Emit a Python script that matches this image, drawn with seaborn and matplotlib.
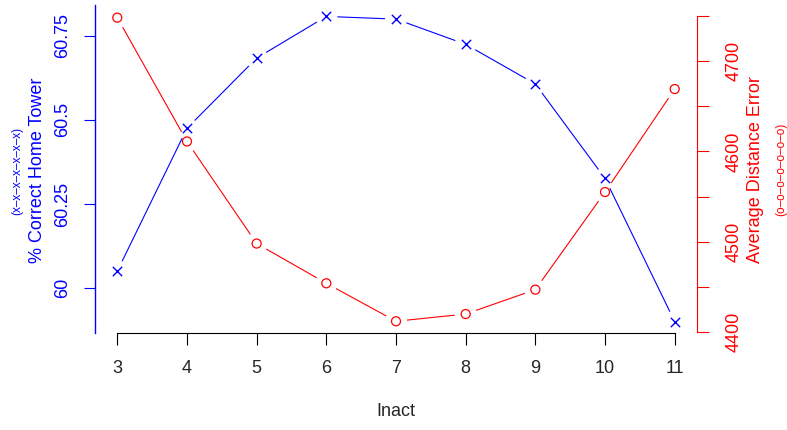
import matplotlib
matplotlib.use("Agg")
import matplotlib.pyplot as plt
import seaborn as sns
import numpy as np
import pandas as pd

sns.set_theme(style="white")
plt.rcParams["font.family"] = ["Liberation Sans", "DejaVu Sans"]

# data
inact = [3, 4, 5, 6, 7, 8, 9, 10, 11]
pct_correct = [60.05, 60.475, 60.684, 60.808, 60.80, 60.725, 60.607, 60.326, 59.90]
dist_error = [4748, 4611, 4498, 4454, 4412, 4420, 4447, 4555, 4669]
left_ticks = [60, 60.25, 60.5, 60.75]
left_labels = ["60", "60.25", "60.5", "60.75"]
right_ticks = [4400, 4450, 4500, 4550, 4600, 4650, 4700, 4750]
right_labels = ["4400", "", "4500", "", "4600", "", "4700", ""]

df = pd.DataFrame({"Inact": inact, "pct": pct_correct, "dist": dist_error})

BLUE = "#0000FF"
RED = "#FF0000"
GAP_PX = 11

fig = plt.figure(figsize=(7.87, 4.30), dpi=100)
ax = fig.add_axes([95 / 787, 97 / 430, 602 / 787, 328 / 430])
ax2 = ax.twinx()
ax.patch.set_visible(False)

ax.set_xlim(2.68, 11.32)
ax.set_ylim(59.866, 60.842)
ax2.set_ylim(4399, 4762)


def gapped_line(axis, xs, ys, color):
    # R type="b": each segment stops short of the points
    pts = axis.transData.transform(np.column_stack([xs, ys]))
    inv = axis.transData.inverted()
    for p, q in zip(pts[:-1], pts[1:]):
        d = q - p
        n = np.hypot(*d)
        if n <= 2 * GAP_PX:
            continue
        u = d / n
        seg = inv.transform(np.vstack([p + u * GAP_PX, q - u * GAP_PX]))
        axis.plot(seg[:, 0], seg[:, 1], color=color, lw=0.8, solid_capstyle="butt")


# blue series (left axis)
gapped_line(ax, inact, pct_correct, BLUE)
sns.scatterplot(data=df, x="Inact", y="pct", ax=ax, marker="x", color=BLUE,
                s=45, linewidth=1.0, zorder=5)

# red series (right axis)
gapped_line(ax2, inact, dist_error, RED)
sns.scatterplot(data=df, x="Inact", y="dist", ax=ax2, marker="o", fc="none",
                ec=RED, s=42, linewidth=0.9, zorder=5)

ax.set_xlim(2.68, 11.32)
ax.set_ylim(59.866, 60.842)
ax2.set_ylim(4399, 4762)

for a in (ax, ax2):
    a.set_xlabel("")
    a.set_ylabel("")
    a.grid(False)
    a.spines["top"].set_visible(False)

# bottom axis
ax.spines["bottom"].set_bounds(3, 11)
ax.spines["bottom"].set_color("black")
ax.spines["bottom"].set_linewidth(0.8)
ax.set_xticks(inact)
ax.tick_params(axis="x", direction="out", length=8.5, width=0.8, color="black",
               labelsize=13, pad=11, bottom=True)
ax2.spines["bottom"].set_visible(False)

# left axis
ax.spines["right"].set_visible(False)
ax.spines["left"].set_color(BLUE)
ax.spines["left"].set_linewidth(1.0)
ax.set_yticks(left_ticks)
ax.set_yticklabels(left_labels, rotation=90, va="center")
ax.tick_params(axis="y", direction="out", length=8, width=0.8, colors=BLUE,
               labelsize=13, pad=9, left=True)

# right axis
ax2.spines["left"].set_visible(False)
ax2.spines["right"].set_color(RED)
ax2.spines["right"].set_linewidth(0.8)
ax2.spines["right"].set_bounds(4400, 4750)
ax2.set_yticks(right_ticks)
ax2.set_yticklabels(right_labels, rotation=90, va="center")
ax2.tick_params(axis="y", direction="out", length=8.5, width=0.8, colors=RED,
                labelsize=13, pad=12, right=True)

# axis titles
fig.text(396 / 787, 1 - 412 / 430, "Inact", ha="center", va="center", fontsize=13)
fig.text(38 / 787, 1 - 170 / 430, "% Correct Home Tower", rotation=90,
         ha="center", va="center", fontsize=13, color=BLUE)
fig.text(17 / 787, 1 - 171 / 430, "(x\u2013x\u2013x\u2013x\u2013x\u2013x\u2013x)",
         rotation=90, ha="center", va="center", fontsize=8.5, color=BLUE)
fig.text(756 / 787, 1 - 170 / 430, "Average Distance Error", rotation=90,
         ha="center", va="center", fontsize=13, color=RED)
fig.text(781 / 787, 1 - 169 / 430, "(o\u2013o\u2013o\u2013o\u2013o\u2013o\u2013o)",
         rotation=90, ha="center", va="center", fontsize=8.5, color=RED)

fig.savefig("out.png", dpi=100)
